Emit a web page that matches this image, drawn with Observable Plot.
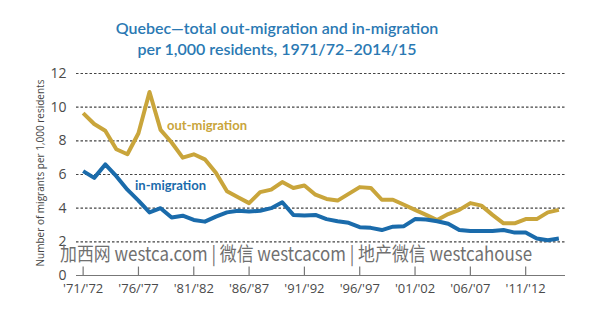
<!DOCTYPE html>
<html><head><meta charset="utf-8">
<script src="https://cdn.jsdelivr.net/npm/d3@7"></script>
<script src="https://cdn.jsdelivr.net/npm/@observablehq/plot@0.6"></script>
<style>
body{margin:0;background:#fff;width:593px;height:322px;position:relative;overflow:hidden;}
#title{position:absolute;left:0;width:554px;top:17px;text-align:center;color:#2a79b3;font:600 16px/21px Lato,sans-serif;}
#chart{position:absolute;left:0;top:62px;}
#ylab{position:absolute;left:40px;top:173px;width:240px;margin-left:-120px;text-align:center;transform:translateY(-50%) rotate(-90deg);font:10px "Open Sans",sans-serif;color:#444;white-space:nowrap;line-height:12px;}
#wm{position:absolute;left:60px;top:239px;font:19px "Noto Sans CJK SC",sans-serif;color:#707070;white-space:nowrap;transform:scaleX(0.89);transform-origin:0 0;}
</style></head>
<body>
<div id="title">Quebec—total out-migration and in-migration<br>per 1,000 residents, 1971/72–2014/15</div>
<div id="chart"></div>
<div id="ylab"></div>
<div id="wm">加西网 westca.com | 微信 westcacom | 地产微信 westcahouse</div>
<script>
const years = [1971,1972,1973,1974,1975,1976,1977,1978,1979,1980,1981,1982,1983,1984,1985,1986,1987,1988,1989,1990,1991,1992,1993,1994,1995,1996,1997,1998,1999,2000,2001,2002,2003,2004,2005,2006,2007,2008,2009,2010,2011,2012,2013,2014];
const outMigration = [9.65,9.0,8.6,7.5,7.2,8.45,10.9,8.65,7.9,7.0,7.2,6.9,6.1,5.0,4.65,4.3,4.95,5.1,5.55,5.2,5.35,4.8,4.55,4.45,4.85,5.25,5.2,4.5,4.5,4.2,3.9,3.6,3.3,3.65,3.9,4.3,4.15,3.6,3.1,3.1,3.35,3.35,3.75,3.9];
const inMigration = [6.2,5.8,6.6,5.9,5.1,4.45,3.75,4.0,3.45,3.55,3.3,3.2,3.5,3.75,3.85,3.8,3.85,4.0,4.35,3.6,3.57,3.6,3.35,3.22,3.13,2.87,2.83,2.7,2.9,2.93,3.35,3.33,3.22,3.07,2.7,2.64,2.64,2.65,2.7,2.55,2.55,2.2,2.1,2.2];
const tickYears = [1971,1976,1981,1986,1991,1996,2001,2006,2011];
const tickLabels = ["'71/'72","'76/'77","'81/'82","'86/'87","'91/'92","'96/'97","'01/'02","'06/'07","'11/'12"];
const yTicks = [0,2,4,6,8,10,12];
const gridValues = [2,4,6,8,10,12];
const seriesNames = ["out-migration","in-migration"];
const seriesColors = ["#c9a53b","#1a6bab"];
const yLabel = "Number of migrants per 1,000 residents";
const labelPos = [{name:"out-migration", year:1982.2, value:8.9},{name:"in-migration", year:1978.9, value:5.3}];

document.getElementById("ylab").textContent = yLabel;

const rows = [];
years.forEach((y,i)=>{
  rows.push({year:y, value:outMigration[i], series:seriesNames[0]});
  rows.push({year:y, value:inMigration[i], series:seriesNames[1]});
});

const chart = Plot.plot({
  width:593, height:260,
  marginLeft:76, marginRight:28, marginTop:11, marginBottom:47,
  style:{fontFamily:"'Open Sans',sans-serif", background:"transparent", overflow:"visible"},
  x:{domain:[1970.4,2014.6], axis:null},
  y:{domain:[0,12], axis:null},
  color:{domain:seriesNames, range:seriesColors},
  marks:[
    Plot.ruleY(gridValues, {stroke:"#444", strokeWidth:1.1, strokeDasharray:"2.5,2"}),
    Plot.ruleY([0], {stroke:"#777", strokeWidth:1.2}),
    Plot.ruleX(tickYears, {y1:0, y2:0.5, stroke:"#777", strokeWidth:1.2}),
    Plot.axisY({ticks:yTicks, tickSize:0, tickPadding:10, fontSize:14, color:"#4a4a4a", label:null}),
    Plot.axisX({ticks:tickYears, tickSize:0, tickPadding:8, fontSize:13, color:"#4a4a4a", label:null,
      tickFormat:(d)=>tickLabels[tickYears.indexOf(d)]}),
    Plot.line(rows, {x:"year", y:"value", z:"series", stroke:"series", strokeWidth:4, strokeLinejoin:"round", strokeLinecap:"butt"}),
    Plot.text(labelPos, {x:"year", y:"value", text:"name", fill:(d)=>d.name, fontSize:13, fontWeight:"bold", fontFamily:"Lato"})
  ]
});
document.getElementById("chart").appendChild(chart);
</script>
</body></html>
